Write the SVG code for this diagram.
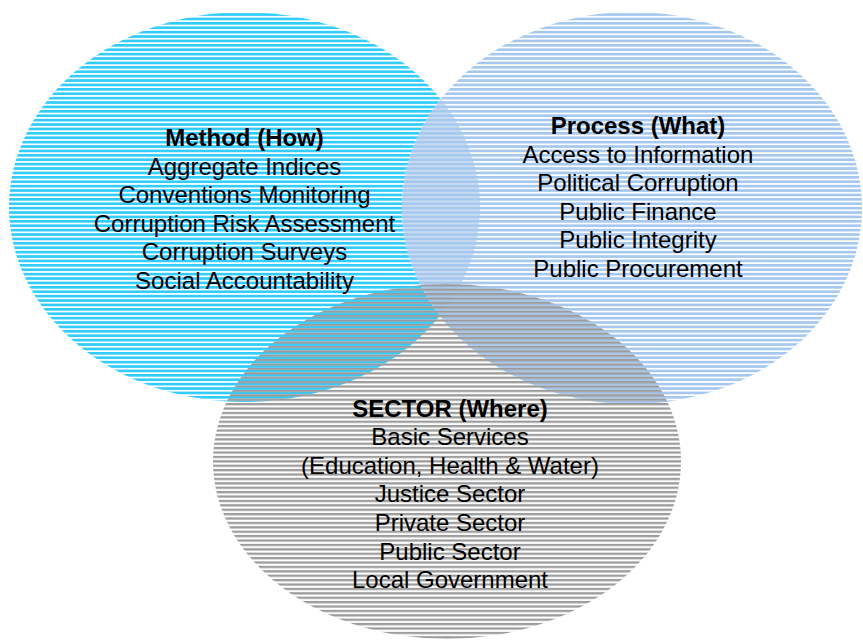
<svg xmlns="http://www.w3.org/2000/svg" width="863" height="641" viewBox="0 0 863 641">
  <style>
    text { font-family: "Liberation Sans", Arial, sans-serif; font-size: 24px; fill: #000; text-anchor: middle; }
    .title { font-weight: bold; }
  </style>
  <defs>
    <pattern id="pCyan" patternUnits="userSpaceOnUse" x="0" y="0" width="10" height="4.4">
      <rect x="0" y="0" width="10" height="2.7" fill="#33CCFF"/>
    </pattern>
    <pattern id="pBlue" patternUnits="userSpaceOnUse" x="0" y="0" width="10" height="4.4">
      <rect x="0" y="0" width="10" height="2.7" fill="#A6C8EE"/>
    </pattern>
    <pattern id="pGray" patternUnits="userSpaceOnUse" x="0" y="0" width="10" height="4.4">
      <rect x="0" y="2.6" width="10" height="1.8" fill="#9C9C9C"/>
      <rect x="0" y="0" width="10" height="0.5" fill="#9C9C9C"/>
    </pattern>
    <clipPath id="clipProcess">
      <ellipse cx="632" cy="208" rx="230" ry="196"/>
    </clipPath>
  </defs>

  <rect x="0" y="0" width="863" height="641" fill="#FFFFFF"/>

  <g id="method">
    <ellipse cx="244.5" cy="207" rx="235.5" ry="195" fill="url(#pCyan)"/>
    <text class="title" x="244.5" y="146">Method (How)</text>
    <text x="244.5" y="174.6">Aggregate Indices</text>
    <text x="244.5" y="203.2">Conventions Monitoring</text>
    <text x="244.5" y="231.8">Corruption Risk Assessment</text>
    <text x="244.5" y="260.4">Corruption Surveys</text>
    <text x="244.5" y="289">Social Accountability</text>
  </g>

  <g id="process">
    <ellipse cx="632" cy="208" rx="230" ry="196" fill="#FFFFFF"/>
    <ellipse cx="244.5" cy="207" rx="235.5" ry="195" fill="#C9DCF2" clip-path="url(#clipProcess)"/>
    <ellipse cx="632" cy="208" rx="230" ry="196" fill="url(#pBlue)"/>
    <text class="title" x="638" y="134">Process (What)</text>
    <text x="638" y="162.6">Access to Information</text>
    <text x="638" y="191.2">Political Corruption</text>
    <text x="638" y="219.8">Public Finance</text>
    <text x="638" y="248.4">Public Integrity</text>
    <text x="638" y="277">Public Procurement</text>
  </g>

  <g id="sector">
    <ellipse cx="447" cy="461.5" rx="234" ry="177.5" fill="url(#pGray)"/>
    <text class="title" x="450" y="416.5">SECTOR (Where)</text>
    <text x="450" y="445.1">Basic Services</text>
    <text x="450" y="473.7">(Education, Health &amp; Water)</text>
    <text x="450" y="502.3">Justice Sector</text>
    <text x="450" y="530.9">Private Sector</text>
    <text x="450" y="559.5">Public Sector</text>
    <text x="450" y="588.1">Local Government</text>
  </g>
</svg>
